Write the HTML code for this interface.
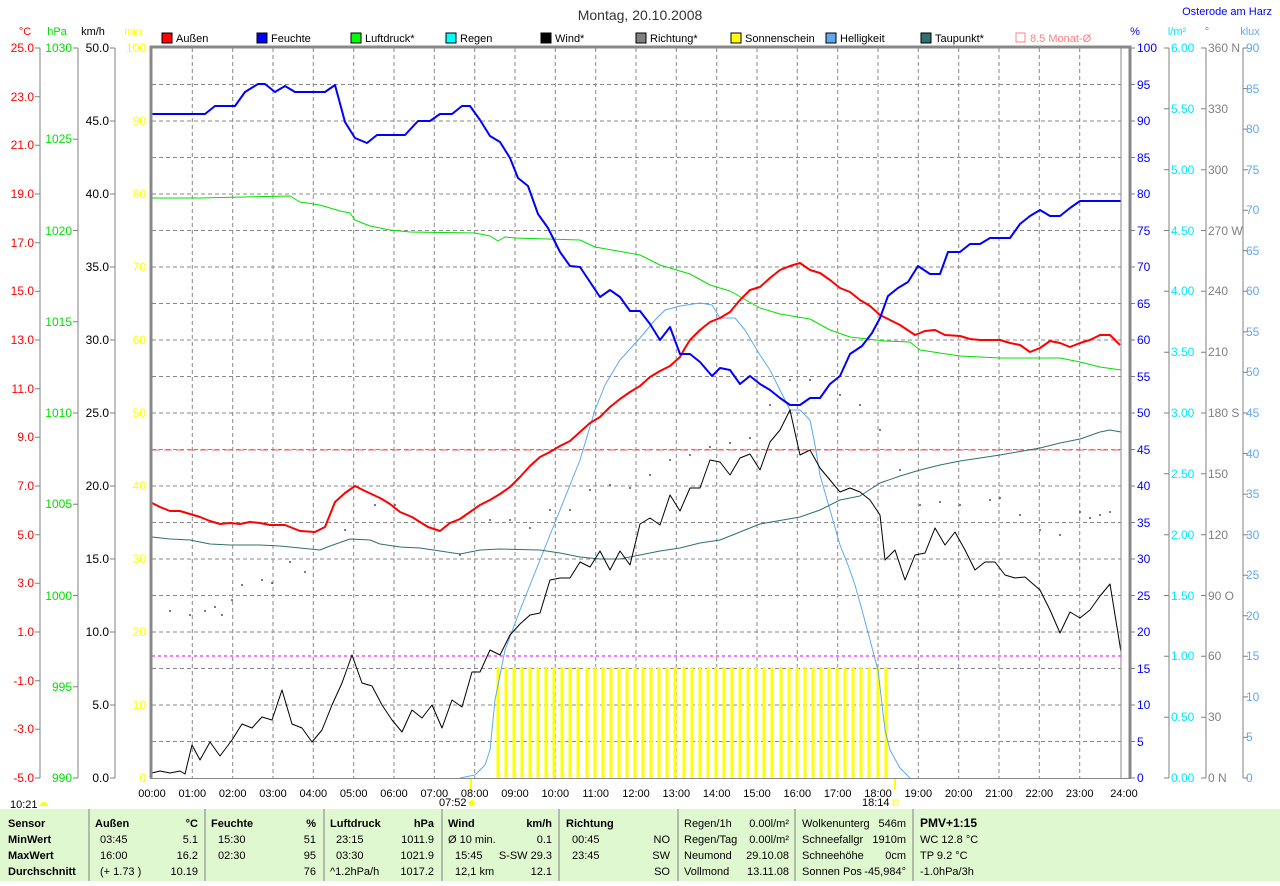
<!DOCTYPE html>
<html><head><meta charset="utf-8"><style>
body{margin:0;background:#fff;width:1280px;height:881px;overflow:hidden;font-family:"Liberation Sans",sans-serif}
svg text{font-family:"Liberation Sans",sans-serif}
</style></head><body>
<svg width="1280" height="881" xmlns="http://www.w3.org/2000/svg">
<text x="640" y="20" font-size="14" text-anchor="middle" fill="#333">Montag, 20.10.2008</text>
<text x="1272" y="15" font-size="11" text-anchor="end" fill="#0000ff">Osterode am Harz</text>
<g font-size="11">
<text x="25" y="35" fill="#ff0000" text-anchor="middle">°C</text>
<text x="57" y="35" fill="#00e000" text-anchor="middle">hPa</text>
<text x="93" y="35" fill="#000" text-anchor="middle">km/h</text>
<text x="133" y="35" fill="#ffff00" text-anchor="middle">min</text>
<text x="1135" y="35" fill="#0000ff" text-anchor="middle">%</text>
<text x="1177" y="35" fill="#00e8ff" text-anchor="middle">l/m²</text>
<text x="1207" y="35" fill="#808080" text-anchor="middle">°</text>
<text x="1250" y="35" fill="#60a8f0" text-anchor="middle">klux</text>
</g>
<g font-size="11">
<rect x="162" y="33" width="10" height="10" fill="#ff0000" stroke="#000"/><text x="176" y="42">Außen</text>
<rect x="257" y="33" width="10" height="10" fill="#0000ff" stroke="#000"/><text x="271" y="42">Feuchte</text>
<rect x="351" y="33" width="10" height="10" fill="#00ff00" stroke="#000"/><text x="365" y="42">Luftdruck*</text>
<rect x="446" y="33" width="10" height="10" fill="#00ffff" stroke="#000"/><text x="460" y="42">Regen</text>
<rect x="541" y="33" width="10" height="10" fill="#000" stroke="#000"/><text x="555" y="42">Wind*</text>
<rect x="636" y="33" width="10" height="10" fill="#808080" stroke="#000"/><text x="650" y="42">Richtung*</text>
<rect x="731" y="33" width="10" height="10" fill="#ffff00" stroke="#000"/><text x="745" y="42">Sonnenschein</text>
<rect x="826" y="33" width="10" height="10" fill="#60a8f0" stroke="#000"/><text x="840" y="42">Helligkeit</text>
<rect x="921" y="33" width="10" height="10" fill="#307070" stroke="#000"/><text x="935" y="42">Taupunkt*</text>
<rect x="1016" y="33" width="9" height="9" fill="none" stroke="#ff8080"/><text x="1030" y="42" fill="#ff8080">8.5 Monat-Ø</text>
</g>
<g stroke="#888" stroke-dasharray="4,3" stroke-width="1">
<path d="M152 84.5H1121M152 121H1121M152 157.5H1121M152 194H1121M152 230.5H1121M152 267H1121M152 303.5H1121M152 340H1121M152 376.5H1121M152 413H1121M152 449.5H1121M152 486H1121M152 522.5H1121M152 559H1121M152 595.5H1121M152 632H1121M152 668.5H1121M152 705H1121M152 741.5H1121"/>
<path d="M192.3 48V778M232.7 48V778M273 48V778M313.3 48V778M353.7 48V778M394 48V778M434.3 48V778M474.7 48V778M515 48V778M555.3 48V778M595.7 48V778M636 48V778M676.3 48V778M716.7 48V778M757 48V778M797.3 48V778M837.7 48V778M878 48V778M918.3 48V778M958.7 48V778M999 48V778M1039.3 48V778M1079.7 48V778"/>
</g>
<path d="M152 450H1121" stroke="#ff6060" stroke-dasharray="8,4"/>
<path d="M152 656H1121" stroke="#e000e0" stroke-dasharray="3,3"/>
<g stroke="#ffff00" stroke-width="3">
<path d="M498 667V778M506 667V778M514 667V778M522 667V778M530 667V778M538 667V778M546 667V778M554 667V778M562 667V778M570 667V778M578 667V778M587 667V778M595 667V778M603 667V778M611 667V778M619 667V778M627 667V778M635 667V778M643 667V778M651 667V778M659 667V778M667 667V778M675 667V778M684 667V778M692 667V778M700 667V778M708 667V778M716 667V778M724 667V778M732 667V778M740 667V778M748 667V778M756 667V778M764 667V778M772 667V778M781 667V778M789 667V778M797 667V778M805 667V778M813 667V778M821 667V778M829 667V778M837 667V778M845 667V778M853 667V778M861 667V778M869 667V778M878 667V778M886 667V778"/>
<path d="M471 778V790M895 778V790" stroke-width="2"/>
</g>
<g fill="#555">
<circle cx="170" cy="611" r="1"/><circle cx="190" cy="615" r="1"/><circle cx="205" cy="611" r="1"/><circle cx="215" cy="607" r="1"/><circle cx="222" cy="615" r="1"/><circle cx="232" cy="600" r="1"/><circle cx="242" cy="585" r="1"/><circle cx="262" cy="580" r="1"/><circle cx="272" cy="583" r="1"/><circle cx="290" cy="562" r="1"/><circle cx="305" cy="572" r="1"/><circle cx="345" cy="530" r="1"/><circle cx="375" cy="505" r="1"/><circle cx="395" cy="505" r="1"/><circle cx="460" cy="555" r="1"/><circle cx="490" cy="520" r="1"/><circle cx="510" cy="520" r="1"/><circle cx="530" cy="528" r="1"/><circle cx="550" cy="510" r="1"/><circle cx="570" cy="510" r="1"/><circle cx="590" cy="490" r="1"/><circle cx="610" cy="485" r="1"/><circle cx="630" cy="488" r="1"/><circle cx="650" cy="475" r="1"/><circle cx="670" cy="460" r="1"/><circle cx="690" cy="455" r="1"/><circle cx="710" cy="447" r="1"/><circle cx="730" cy="443" r="1"/><circle cx="750" cy="438" r="1"/><circle cx="770" cy="405" r="1"/><circle cx="790" cy="380" r="1"/><circle cx="810" cy="380" r="1"/><circle cx="840" cy="395" r="1"/><circle cx="860" cy="405" r="1"/><circle cx="880" cy="430" r="1"/><circle cx="900" cy="470" r="1"/><circle cx="920" cy="505" r="1"/><circle cx="940" cy="502" r="1"/><circle cx="960" cy="505" r="1"/><circle cx="990" cy="500" r="1"/><circle cx="1000" cy="498" r="1"/><circle cx="1020" cy="515" r="1"/><circle cx="1040" cy="530" r="1"/><circle cx="1060" cy="535" r="1"/><circle cx="1080" cy="512" r="1"/><circle cx="1090" cy="518" r="1"/><circle cx="1100" cy="515" r="1"/><circle cx="1110" cy="512" r="1"/>
</g>
<g fill="none" stroke-linejoin="round">
<polyline stroke="#60a8f0" stroke-width="1" points="460,778 475,775 485,765 490,750 495,700 505,650 520,610 540,560 560,510 580,460 595,410 605,385 620,360 640,338 655,320 665,310 680,306 700,303 712,305 720,318 735,318 745,330 760,355 770,370 780,390 790,410 800,410 810,420 815,445 820,475 830,510 840,545 848,565 855,585 862,610 870,640 878,670 885,730 890,750 900,768 910,778"/>
<polyline stroke="#307070" stroke-width="1" points="152,537 170,539 190,540 210,544 230,545 260,545 280,546 300,548 320,550 330,546 350,539 370,540 380,544 400,547 420,548 440,551 460,554 480,550 500,549 540,550 560,553 580,557 600,559 620,559 640,555 660,551 680,548 700,543 720,540 740,532 760,524 800,517 820,510 840,500 860,496 880,483 900,476 920,470 940,465 960,461 1000,455 1040,448 1060,443 1080,439 1100,432 1110,430 1121,432"/>
<polyline stroke="#00e000" stroke-width="1" points="152,198 200,198 290,196 300,202 320,205 340,211 350,213 355,220 370,226 390,230 410,232 475,233 490,236 498,241 505,237 515,238 580,240 595,247 640,255 660,265 690,274 710,285 730,291 760,308 780,314 810,319 830,330 850,337 885,341 910,342 920,350 960,356 1000,358 1060,358 1080,362 1100,367 1121,370"/>
<polyline stroke="#000" stroke-width="1" points="152,773 160,771 170,773 180,771 185,774 192,745 200,760 210,742 220,756 232,740 242,724 252,728 262,717 272,720 282,690 292,724 302,728 312,742 322,730 332,705 342,683 352,655 362,683 372,686 382,705 392,720 402,732 412,710 422,718 432,705 442,728 452,700 462,707 472,672 480,672 490,650 500,655 510,635 520,624 530,615 540,613 550,580 560,578 570,578 580,562 590,567 600,551 610,570 620,551 630,565 640,524 650,518 660,525 670,495 680,511 690,488 700,488 710,460 720,462 730,475 740,458 750,454 760,470 770,442 780,430 790,410 800,455 810,450 820,468 830,480 840,492 850,488 860,492 870,500 880,515 885,560 895,550 905,580 915,555 925,553 935,528 945,545 955,532 965,550 975,570 985,562 995,562 1005,575 1015,578 1025,577 1040,590 1050,610 1060,633 1070,612 1080,618 1090,610 1100,596 1110,584 1121,652"/>
<polyline stroke="#ff0000" stroke-width="2" points="152,503 160,507 170,511 180,511 190,514 200,517 210,521 220,524 230,523 240,524 250,522 260,523 270,525 285,525 300,531 315,532 325,527 335,502 345,493 355,486 365,491 380,498 390,504 400,512 412,517 420,522 428,527 440,531 450,523 460,519 470,512 480,505 490,500 500,494 510,487 520,477 530,466 540,457 550,452 560,446 570,441 580,432 590,423 600,417 610,407 620,399 630,392 640,386 650,377 660,371 670,366 680,357 685,348 690,340 700,330 710,322 720,318 730,312 740,300 750,290 760,287 770,278 780,270 790,266 800,263 810,270 820,273 830,280 840,288 850,292 860,300 870,306 880,315 890,320 900,325 915,335 925,331 935,330 945,335 960,336 970,339 980,340 1000,340 1010,343 1020,345 1030,352 1040,348 1050,341 1060,343 1070,347 1080,343 1090,340 1100,335 1110,335 1120,345"/>
<polyline stroke="#0000ff" stroke-width="2" points="152,114 205,114 215,106 235,106 245,92 258,84 265,84 275,92 285,86 295,92 325,92 335,85 345,122 355,138 367,143 377,135 405,135 418,121 430,121 440,114 452,114 462,106 470,106 480,120 490,136 500,142 510,158 518,178 528,186 538,214 548,228 560,252 570,266 580,267 590,282 600,297 610,290 620,297 630,311 640,311 650,324 660,340 670,327 680,354 690,354 700,362 712,376 720,368 730,370 740,384 750,376 760,384 770,390 780,398 790,405 800,405 810,398 820,398 830,384 840,376 850,354 862,346 872,333 880,318 888,296 898,288 908,282 918,266 930,274 940,274 948,252 960,252 970,244 980,244 990,238 1010,238 1020,224 1030,216 1040,210 1050,216 1060,216 1070,208 1080,201 1121,201"/>
</g>
<path d="M151 778V47H1130V778" fill="none" stroke="#888" stroke-width="3"/>
<path d="M1121 48V778" stroke="#888" stroke-width="1"/>
<path d="M150 778.5H1131" stroke="#888" stroke-width="1"/>
<g stroke="#808080" fill="none">
<path d="M40 48V778M78 48V778M115 48V778M1169 48V778M1206 48V778M1243 48V778"/>
<path d="M35 48H40M35 96.7H40M35 145.3H40M35 194H40M35 242.7H40M35 291.3H40M35 340H40M35 388.7H40M35 437.3H40M35 486H40M35 534.7H40M35 583.3H40M35 632H40M35 680.7H40M35 729.3H40M35 778H40"/>
<path d="M73 48H78M73 139.3H78M73 230.5H78M73 321.8H78M73 413H78M73 504.3H78M73 595.5H78M73 686.8H78M73 778H78"/>
<path d="M110 48H115M110 121H115M110 194H115M110 267H115M110 340H115M110 413H115M110 486H115M110 559H115M110 632H115M110 705H115M110 778H115"/>
<path d="M1130 48H1135M1130 84.5H1135M1130 121H1135M1130 157.5H1135M1130 194H1135M1130 230.5H1135M1130 267H1135M1130 303.5H1135M1130 340H1135M1130 376.5H1135M1130 413H1135M1130 449.5H1135M1130 486H1135M1130 522.5H1135M1130 559H1135M1130 595.5H1135M1130 632H1135M1130 668.5H1135M1130 705H1135M1130 741.5H1135M1130 778H1135"/>
<path d="M1164 48H1169M1164 108.8H1169M1164 169.7H1169M1164 230.5H1169M1164 291.3H1169M1164 352.2H1169M1164 413H1169M1164 473.8H1169M1164 534.7H1169M1164 595.5H1169M1164 656.3H1169M1164 717.2H1169M1164 778H1169"/>
<path d="M1201 48H1206M1201 108.8H1206M1201 169.7H1206M1201 230.5H1206M1201 291.3H1206M1201 352.2H1206M1201 413H1206M1201 473.8H1206M1201 534.7H1206M1201 595.5H1206M1201 656.3H1206M1201 717.2H1206M1201 778H1206"/>
<path d="M1243 48H1248M1243 88.6H1248M1243 129.1H1248M1243 169.7H1248M1243 210.2H1248M1243 250.8H1248M1243 291.3H1248M1243 331.9H1248M1243 372.4H1248M1243 413H1248M1243 453.6H1248M1243 494.1H1248M1243 534.7H1248M1243 575.2H1248M1243 615.8H1248M1243 656.3H1248M1243 696.9H1248M1243 737.4H1248M1243 778H1248"/>
</g>
<g font-size="12" text-anchor="end" fill="#ff0000">
<text x="34" y="52">25.0</text><text x="34" y="101">23.0</text><text x="34" y="149">21.0</text><text x="34" y="198">19.0</text><text x="34" y="247">17.0</text><text x="34" y="295">15.0</text><text x="34" y="344">13.0</text><text x="34" y="393">11.0</text><text x="34" y="441">9.0</text><text x="34" y="490">7.0</text><text x="34" y="539">5.0</text><text x="34" y="587">3.0</text><text x="34" y="636">1.0</text><text x="34" y="685">-1.0</text><text x="34" y="733">-3.0</text><text x="34" y="782">-5.0</text>
</g>
<g font-size="12" text-anchor="end" fill="#00e000">
<text x="72" y="52">1030</text><text x="72" y="143">1025</text><text x="72" y="235">1020</text><text x="72" y="326">1015</text><text x="72" y="417">1010</text><text x="72" y="508">1005</text><text x="72" y="600">1000</text><text x="72" y="691">995</text><text x="72" y="782">990</text>
</g>
<g font-size="12" text-anchor="end" fill="#000">
<text x="109" y="52">50.0</text><text x="109" y="125">45.0</text><text x="109" y="198">40.0</text><text x="109" y="271">35.0</text><text x="109" y="344">30.0</text><text x="109" y="417">25.0</text><text x="109" y="490">20.0</text><text x="109" y="563">15.0</text><text x="109" y="636">10.0</text><text x="109" y="709">5.0</text><text x="109" y="782">0.0</text>
</g>
<g font-size="12" text-anchor="end" fill="#ffff00">
<text x="146" y="52">100</text><text x="146" y="125">90</text><text x="146" y="198">80</text><text x="146" y="271">70</text><text x="146" y="344">60</text><text x="146" y="417">50</text><text x="146" y="490">40</text><text x="146" y="563">30</text><text x="146" y="636">20</text><text x="146" y="709">10</text><text x="146" y="782">0</text>
</g>
<g font-size="12" fill="#0000ff">
<text x="1137" y="52">100</text><text x="1137" y="89">95</text><text x="1137" y="125">90</text><text x="1137" y="162">85</text><text x="1137" y="198">80</text><text x="1137" y="235">75</text><text x="1137" y="271">70</text><text x="1137" y="308">65</text><text x="1137" y="344">60</text><text x="1137" y="381">55</text><text x="1137" y="417">50</text><text x="1137" y="454">45</text><text x="1137" y="490">40</text><text x="1137" y="527">35</text><text x="1137" y="563">30</text><text x="1137" y="600">25</text><text x="1137" y="636">20</text><text x="1137" y="673">15</text><text x="1137" y="709">10</text><text x="1137" y="746">5</text><text x="1137" y="782">0</text>
</g>
<g font-size="12" fill="#00e8ff">
<text x="1171" y="52">6.00</text><text x="1171" y="113">5.50</text><text x="1171" y="174">5.00</text><text x="1171" y="235">4.50</text><text x="1171" y="295">4.00</text><text x="1171" y="356">3.50</text><text x="1171" y="417">3.00</text><text x="1171" y="478">2.50</text><text x="1171" y="539">2.00</text><text x="1171" y="600">1.50</text><text x="1171" y="660">1.00</text><text x="1171" y="721">0.50</text><text x="1171" y="782">0.00</text>
</g>
<g font-size="12" fill="#808080">
<text x="1208" y="52">360 N</text><text x="1208" y="113">330</text><text x="1208" y="174">300</text><text x="1208" y="235">270 W</text><text x="1208" y="295">240</text><text x="1208" y="356">210</text><text x="1208" y="417">180 S</text><text x="1208" y="478">150</text><text x="1208" y="539">120</text><text x="1208" y="600">90  O</text><text x="1208" y="660">60</text><text x="1208" y="721">30</text><text x="1208" y="782">0   N</text>
</g>
<g font-size="12" fill="#60a8f0">
<text x="1246" y="52">90</text><text x="1246" y="93">85</text><text x="1246" y="133">80</text><text x="1246" y="174">75</text><text x="1246" y="214">70</text><text x="1246" y="255">65</text><text x="1246" y="295">60</text><text x="1246" y="336">55</text><text x="1246" y="376">50</text><text x="1246" y="417">45</text><text x="1246" y="458">40</text><text x="1246" y="498">35</text><text x="1246" y="539">30</text><text x="1246" y="579">25</text><text x="1246" y="620">20</text><text x="1246" y="660">15</text><text x="1246" y="701">10</text><text x="1246" y="741">5</text><text x="1246" y="782">0</text>
</g>
<g font-size="11" text-anchor="middle" fill="#000">
<text x="152" y="797">00:00</text><text x="192.3" y="797">01:00</text><text x="232.7" y="797">02:00</text><text x="273" y="797">03:00</text><text x="313.3" y="797">04:00</text><text x="353.7" y="797">05:00</text><text x="394" y="797">06:00</text><text x="434.3" y="797">07:00</text><text x="474.7" y="797">08:00</text><text x="515" y="797">09:00</text><text x="555.3" y="797">10:00</text><text x="595.7" y="797">11:00</text><text x="636" y="797">12:00</text><text x="676.3" y="797">13:00</text><text x="716.7" y="797">14:00</text><text x="757" y="797">15:00</text><text x="797.3" y="797">16:00</text><text x="837.7" y="797">17:00</text><text x="878" y="797">18:00</text><text x="918.3" y="797">19:00</text><text x="958.7" y="797">20:00</text><text x="999" y="797">21:00</text><text x="1039.3" y="797">22:00</text><text x="1079.7" y="797">23:00</text><text x="1124" y="797">24:00</text>
</g>
<g font-size="11" fill="#000">
<text x="10" y="808">10:21</text><text x="439" y="806">07:52</text><text x="862" y="806">18:14</text>
</g>
<path d="M40 806a4 4 0 0 1 8 0z" fill="#ffff00"/>
<circle cx="472" cy="803" r="3" fill="#ffff00"/>
<rect x="893" y="800" width="5" height="5" fill="none" stroke="#ffff00"/>
<rect x="0" y="809" width="1280" height="72" fill="#e0f8d0"/>
<g stroke="#808080"><path d="M89 809V881M205 809V881M324 809V881M442 809V881M559 809V881M678 809V881M795 809V881M913 809V881"/></g>
<g font-size="11" fill="#000">
<g font-weight="bold"><text x="8" y="827">Sensor</text><text x="8" y="843">MinWert</text><text x="8" y="859">MaxWert</text><text x="8" y="875">Durchschnitt</text>
<text x="95" y="827">Außen</text><text x="198" y="827" text-anchor="end">°C</text>
<text x="211" y="827">Feuchte</text><text x="316" y="827" text-anchor="end">%</text>
<text x="330" y="827">Luftdruck</text><text x="434" y="827" text-anchor="end">hPa</text>
<text x="448" y="827">Wind</text><text x="552" y="827" text-anchor="end">km/h</text>
<text x="566" y="827">Richtung</text><text x="920" y="827" font-size="12">PMV+1:15</text></g>
<text x="100" y="843">03:45</text><text x="198" y="843" text-anchor="end">5.1</text>
<text x="100" y="859">16:00</text><text x="198" y="859" text-anchor="end">16.2</text>
<text x="100" y="875">(+ 1.73 )</text><text x="198" y="875" text-anchor="end">10.19</text>
<text x="218" y="843">15:30</text><text x="316" y="843" text-anchor="end">51</text>
<text x="218" y="859">02:30</text><text x="316" y="859" text-anchor="end">95</text>
<text x="316" y="875" text-anchor="end">76</text>
<text x="336" y="843">23:15</text><text x="434" y="843" text-anchor="end">1011.9</text>
<text x="336" y="859">03:30</text><text x="434" y="859" text-anchor="end">1021.9</text>
<text x="330" y="875">^1.2hPa/h</text><text x="434" y="875" text-anchor="end">1017.2</text>
<text x="448" y="843">Ø 10 min.</text><text x="552" y="843" text-anchor="end">0.1</text>
<text x="455" y="859">15:45</text><text x="552" y="859" text-anchor="end">S-SW 29.3</text>
<text x="455" y="875">12,1 km</text><text x="552" y="875" text-anchor="end">12.1</text>
<text x="572" y="843">00:45</text><text x="670" y="843" text-anchor="end">NO</text>
<text x="572" y="859">23:45</text><text x="670" y="859" text-anchor="end">SW</text>
<text x="670" y="875" text-anchor="end">SO</text>
<text x="684" y="827">Regen/1h</text><text x="789" y="827" text-anchor="end">0.00l/m²</text>
<text x="684" y="843">Regen/Tag</text><text x="789" y="843" text-anchor="end">0.00l/m²</text>
<text x="684" y="859">Neumond</text><text x="789" y="859" text-anchor="end">29.10.08</text>
<text x="684" y="875">Vollmond</text><text x="789" y="875" text-anchor="end">13.11.08</text>
<text x="802" y="827">Wolkenunterg</text><text x="906" y="827" text-anchor="end">546m</text>
<text x="802" y="843">Schneefallgr</text><text x="906" y="843" text-anchor="end">1910m</text>
<text x="802" y="859">Schneehöhe</text><text x="906" y="859" text-anchor="end">0cm</text>
<text x="802" y="875">Sonnen Pos</text><text x="906" y="875" text-anchor="end">-45,984°</text>
<text x="920" y="843">WC 12.8 °C</text><text x="920" y="859">TP 9.2 °C</text><text x="920" y="875">-1.0hPa/3h</text>
</g>
</svg>
</body></html>
